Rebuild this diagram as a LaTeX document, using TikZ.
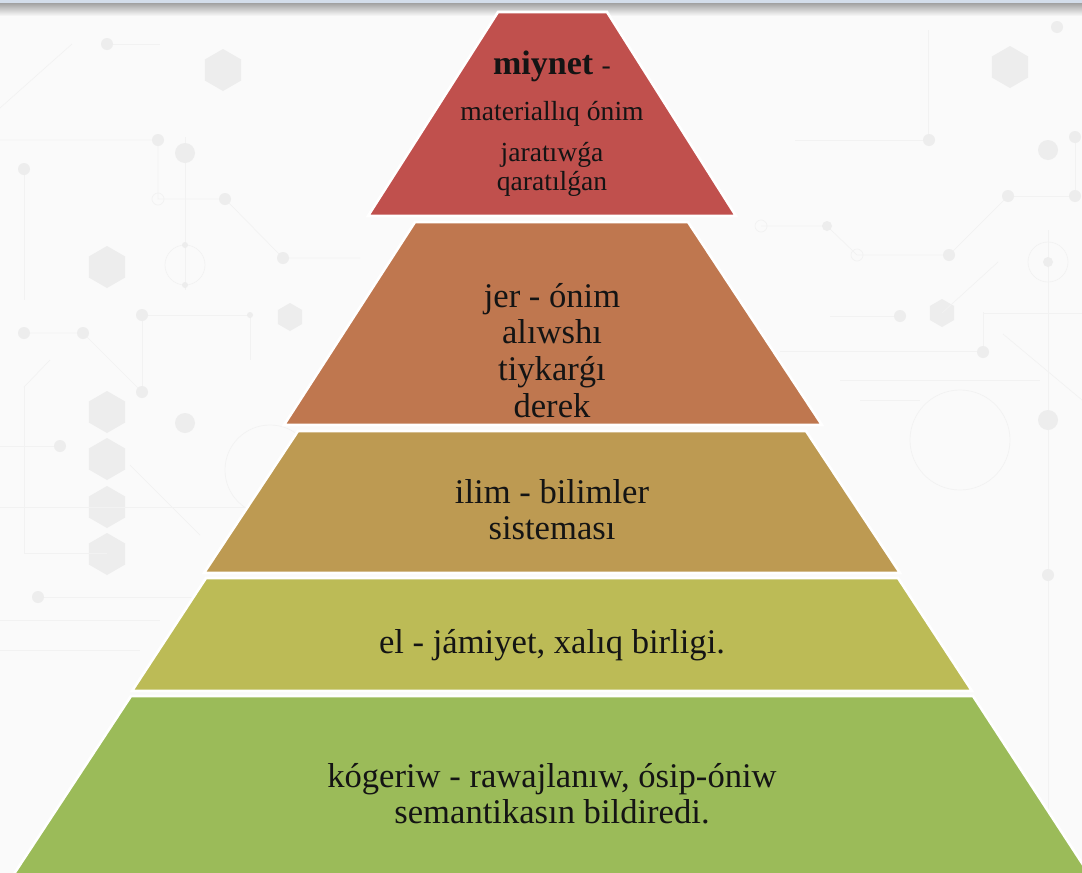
\documentclass[tikz,border=0pt]{standalone}
\usepackage{fontspec}
\setmainfont{Liberation Serif}
\begin{document}
\begin{tikzpicture}[x=1pt,y=-1pt,
  layer/.style={draw=white,line width=2.6pt,line join=miter},
  txt/.style={anchor=base,inner sep=0pt,text=black!92},
  big/.style={font=\fontsize{34.6}{36.7}\selectfont},
  small/.style={font=\fontsize{27.6}{29}\selectfont},
  cline/.style={draw=black!5,line width=0.7pt},
  cdot/.style={fill=black!7},
  cring/.style={draw=black!5,line width=0.7pt},
  hexf/.style={fill=black!7}]
\definecolor{bgc}{HTML}{FAFAFA}
\definecolor{cA}{HTML}{C0504D}
\definecolor{cB}{HTML}{BF774F}
\definecolor{cC}{HTML}{BD9A52}
\definecolor{cD}{HTML}{BCBB56}
\definecolor{cE}{HTML}{9BBB59}
\definecolor{topline}{HTML}{D3DDEA}
\useasboundingbox (0,0) rectangle (1082,873);
\fill[bgc] (0,0) rectangle (1082,873);
% ---- faint circuit background ----
\begin{scope}
\newcommand{\hexa}[3]{\fill[hexf] (#1,#2) +(90:#3) -- +(150:#3) -- +(210:#3) -- +(270:#3) -- +(330:#3) -- +(30:#3) -- cycle;}
\hexa{223}{70}{21}
\hexa{107}{267}{21}
\hexa{107}{412}{21}
\hexa{107}{459}{21}
\hexa{107}{507}{21}
\hexa{107}{554}{21}
\hexa{290}{317}{14}
\hexa{1010}{67}{21}
\hexa{942}{313}{14}
% left lines
\draw[cline] (0,140) -- (158,140) -- (158,199) -- (225,199) -- (283,258) -- (360,258);
\draw[cline] (185,137) -- (185,290);
\draw[cline] (24,169) -- (24,300);
\draw[cline] (107,44) -- (160,44);
\draw[cline] (0,108) -- (72,44);
\draw[cring] (185,265) circle (20);
\draw[cline] (24,333) -- (83,333) -- (142,392);
\draw[cline] (142,315) -- (250,315) -- (250,360);
\draw[cline] (142,315) -- (142,392);
\draw[cline] (0,446) -- (60,446);
\draw[cline] (24,387) -- (24,553) -- (107,553);
\draw[cline] (24,387) -- (50,360);
\draw[cline] (38,597) -- (200,597);
\draw[cline] (0,507) -- (250,507);
\draw[cline] (130,465) -- (200,535);
\draw[cline] (0,620) -- (160,620);
\draw[cline] (0,650) -- (140,650);
\draw[cring] (270,470) circle (45);
\fill[cdot] (185,153) circle (10);
\fill[cdot] (158,140) circle (6);
\fill[cdot] (225,199) circle (6);
\fill[cdot] (283,258) circle (6);
\draw[cring] (158,199) circle (6);
\fill[cdot] (24,169) circle (6);
\fill[cdot] (107,44) circle (6);
\fill[cdot] (185,245) circle (3);
\fill[cdot] (185,285) circle (3);
\fill[cdot] (24,333) circle (6);
\fill[cdot] (83,333) circle (6);
\fill[cdot] (142,315) circle (6);
\fill[cdot] (142,392) circle (6);
\fill[cdot] (185,423) circle (10);
\fill[cdot] (60,446) circle (6);
\fill[cdot] (38,597) circle (6);
\fill[cdot] (250,315) circle (3);
% right lines
\draw[cline] (928,30) -- (928,140);
\draw[cline] (795,140) -- (929,140);
\draw[cline] (1008,196) -- (1075,196);
\draw[cline] (1075,137) -- (1075,196);
\draw[cline] (1008,196) -- (949,255) -- (857,255) -- (827,226) -- (761,226);
\draw[cline] (900,316) -- (830,316);
\draw[cline] (942,313) -- (998,262);
\draw[cline] (983,312) -- (983,352);
\draw[cline] (983,313) -- (1082,313);
\draw[cline] (780,351) -- (983,351);
\draw[cline] (840,380) -- (1040,380);
\draw[cline] (860,400) -- (920,400);
\draw[cline] (1003,334) -- (1082,400);
\draw[cline] (1048,230) -- (1048,873);
\draw[cring] (1048,262) circle (20);
\draw[cring] (960,440) circle (50);
\fill[cdot] (929,140) circle (6);
\fill[cdot] (1048,150) circle (10);
\fill[cdot] (1075,137) circle (6);
\fill[cdot] (1008,196) circle (6);
\fill[cdot] (1075,196) circle (6);
\fill[cdot] (949,255) circle (6);
\draw[cring] (857,255) circle (6);
\fill[cdot] (827,226) circle (5);
\draw[cring] (761,226) circle (6);
\fill[cdot] (1048,262) circle (5);
\fill[cdot] (900,316) circle (6);
\fill[cdot] (983,352) circle (6);
\fill[cdot] (1048,420) circle (10);
\fill[cdot] (1057,27) circle (6);
\fill[cdot] (1048,575) circle (6);
\end{scope}
% top band
\fill[top color=black!38,bottom color=bgc] (0,2.5) rectangle (1082,16);
\fill[topline] (0,0) rectangle (1082,2.5);
% ---- pyramid layers ----
\fill[cA,layer] (498,12) -- (607,12) -- (736,216) -- (368,216) -- cycle;
\fill[cB,layer] (415,222) -- (688,222) -- (822,425) -- (284,425) -- cycle;
\fill[cC,layer] (298,431) -- (806,431) -- (900,573) -- (204,573) -- cycle;
\fill[cD,layer] (206,578) -- (898,578) -- (972,691) -- (132,691) -- cycle;
\fill[cE,layer] (131,696) -- (973,696) -- (1093,880) -- (10,880) -- cycle;
% ---- texts ----
\node[txt] (t1a) at (552,74.5) {\fontsize{34}{36}\selectfont\textbf{miynet} \fontsize{27.6}{29}\selectfont -};
\node[txt,small] (t1b) at (552,120.5) {materiallıq ónim};
\node[txt,small] (t1c) at (552,161.5) {jaratıwǵa};
\node[txt,small] (t1d) at (552,190.5) {qaratılǵan};
\node[txt,big] (t2a) at (552,307) {jer - ónim};
\node[txt,big] (t2b) at (552,343.7) {alıwshı};
\node[txt,big] (t2c) at (552,380.4) {tiykarǵı};
\node[txt,big] (t2d) at (552,417) {derek};
\node[txt,big] (t3a) at (552,503) {ilim - bilimler};
\node[txt,big] (t3b) at (552,539) {sisteması};
\node[txt,big] (t4a) at (552,653) {el - jámiyet, xalıq birligi.};
\node[txt,big] (t5a) at (552,787.5) {kógeriw - rawajlanıw, ósip-óniw};
\node[txt,big] (t5b) at (552,823) {semantikasın bildiredi.};
\end{tikzpicture}
\end{document}
